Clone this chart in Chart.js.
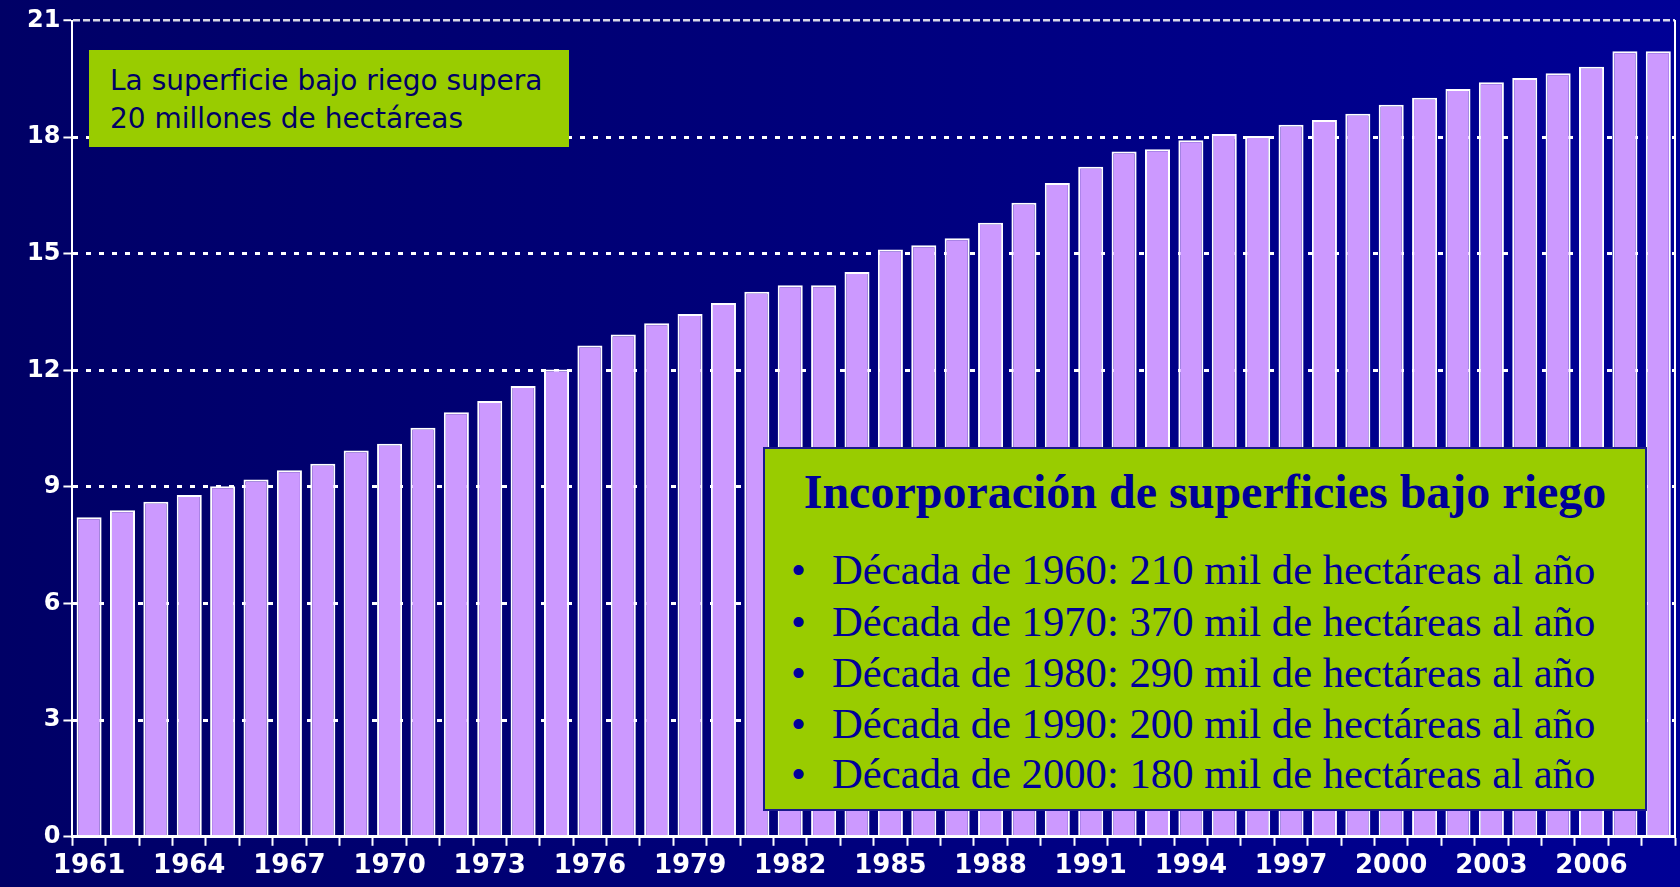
<!DOCTYPE html>
<html lang="es">
<head>
<meta charset="utf-8">
<title>Superficie bajo riego</title>
<script src="https://cdn.jsdelivr.net/npm/chart.js@4.4.1/dist/chart.umd.min.js"></script>
<style>
  html, body { margin: 0; padding: 0; }
  body {
    width: 1680px; height: 887px; overflow: hidden; position: relative;
    background: linear-gradient(to right, #000066 0%, #00007a 45%, #000096 100%);
  }
  #wrap { position: absolute; left: 0; top: 0; width: 1680px; height: 887px; }
  .box1 {
    position: absolute; left: 89px; top: 50px; width: 480px; height: 97px;
    background: #99cc00; color: #000066;
    font-family: "DejaVu Sans", Verdana, sans-serif; font-size: 28px; line-height: 38.3px;
  }
  .box1 div { position: absolute; left: 21px; white-space: nowrap; }
  .box2 {
    position: absolute; left: 763px; top: 447px; width: 880px; height: 360px;
    background: #99cc00; border: 2px solid #1a1a8c; color: #000099;
    font-family: "Liberation Serif", "Times New Roman", serif;
  }
  .box2 .title {
    position: absolute; left: 0; right: 0; top: 14px; text-align: center;
    font-weight: bold; font-size: 48px; line-height: 58px; white-space: nowrap;
  }
  .box2 .item {
    position: absolute; left: 26px; font-size: 42.7px; line-height: 51.3px; white-space: nowrap;
  }
  .box2 .item span { display: inline-block; width: 41px; }
</style>
</head>
<body>
<div id="wrap"><canvas id="riegoChart"></canvas></div>

<div class="box1">
  <div style="top: 12px;">La superficie bajo riego supera</div>
  <div style="top: 50px;">20 millones de hectáreas</div>
</div>

<div class="box2">
  <div class="title">Incorporación de superficies bajo riego</div>
  <div class="item" style="top: 95px;"><span>•</span>Década de 1960: 210 mil de hectáreas al año</div>
  <div class="item" style="top: 147px;"><span>•</span>Década de 1970: 370 mil de hectáreas al año</div>
  <div class="item" style="top: 198px;"><span>•</span>Década de 1980: 290 mil de hectáreas al año</div>
  <div class="item" style="top: 249px;"><span>•</span>Década de 1990: 200 mil de hectáreas al año</div>
  <div class="item" style="top: 299px;"><span>•</span>Década de 2000: 180 mil de hectáreas al año</div>
</div>

<script>
// años (categorías)
const years = [
  '1961', '1962', '1963', '1964', '1965', '1966', '1967', '1968', '1969', '1970',
  '1971', '1972', '1973', '1974', '1975', '1976', '1977', '1978', '1979', '1980',
  '1981', '1982', '1983', '1984', '1985', '1986', '1987', '1988', '1989', '1990',
  '1991', '1992', '1993', '1994', '1995', '1996', '1997', '1998', '1999', '2000',
  '2001', '2002', '2003', '2004', '2005', '2006', '2007', '2008'
];

// superficie bajo riego (millones de ha)
const superficie = [
  8.22, 8.40, 8.62, 8.79, 9.02, 9.19, 9.43, 9.60, 9.94, 10.11,
  10.52, 10.92, 11.21, 11.60, 12.02, 12.64, 12.92, 13.21, 13.45, 13.73,
  14.02, 14.19, 14.19, 14.53, 15.11, 15.22, 15.40, 15.80, 16.31, 16.82,
  17.24, 17.63, 17.69, 17.92, 18.08, 18.03, 18.32, 18.44, 18.60, 18.83,
  19.01, 19.24, 19.41, 19.52, 19.64, 19.81, 20.21, 20.21
];

// etiquetas visibles del eje x
const xLabels = ['1961', '1964', '1967', '1970', '1973', '1976', '1979', '1982',
  '1985', '1988', '1991', '1994', '1997', '2000', '2003', '2006'];

// eje y
const yTicks = [0, 3, 6, 9, 12, 15, 18, 21];

const ctx = document.getElementById('riegoChart').getContext('2d');

new Chart(ctx, {
  type: 'bar',
  data: {
    labels: years,
    datasets: [{
      label: 'Superficie bajo riego',
      data: superficie,
      backgroundColor: '#cc99ff',
      borderColor: '#ffffff',
      borderWidth: { top: 2, left: 2, right: 2, bottom: 0 },
      borderSkipped: false,
      barPercentage: 0.75,
      categoryPercentage: 1.0,
    }]
  },
  options: {
    responsive: true,
    maintainAspectRatio: false,
    animation: false,
    layout: { padding: { left: 24, right: 5, top: 20.5, bottom: 0 } },
    plugins: {
      legend: { display: false },
      tooltip: { enabled: false },
    },
    scales: {
      x: {
        offset: true,
        grid: {
          offset: true,
          drawOnChartArea: false,
          drawTicks: true,
          tickLength: 9,
          tickWidth: 2,
          tickColor: '#ffffff',
          color: '#ffffff',
        },
        border: { color: '#ffffff', width: 3 },
        ticks: {
          color: '#ffffff',
          autoSkip: false,
          maxRotation: 0,
          padding: 5,
          font: { family: '"DejaVu Sans", Verdana, sans-serif', weight: 'bold', size: 26 },
          callback: function (value, index) {
            const y = years[index];
            return xLabels.includes(y) ? y : '';
          },
        },
      },
      y: {
        min: yTicks[0],
        max: yTicks[yTicks.length - 1],
        afterBuildTicks: function (scale) {
          scale.ticks = yTicks.map(v => ({ value: v }));
        },
        grid: {
          color: (c) => c.tick && c.tick.value === 21 ? 'rgba(255,255,255,0.85)' : '#ffffff',
          lineWidth: (c) => c.tick && c.tick.value === 21 ? 2.5 : 3,
          tickLength: 9,
          tickWidth: 2,
          tickColor: '#ffffff',
        },
        border: {
          color: '#ffffff',
          width: 2,
          dash: (c) => c.tick && c.tick.value === 21 ? [7, 3] : [5, 8],
        },
        ticks: {
          color: '#ffffff',
          padding: 3,
          font: { family: '"DejaVu Sans", Verdana, sans-serif', weight: 'bold', size: 24 },
        },
      },
      y2: {
        position: 'right',
        min: 0,
        max: 21,
        grid: { display: false, drawTicks: false },
        ticks: { display: false },
        border: { color: '#ffffff', width: 2 },
      },
    },
  },
});
</script>
</body>
</html>
